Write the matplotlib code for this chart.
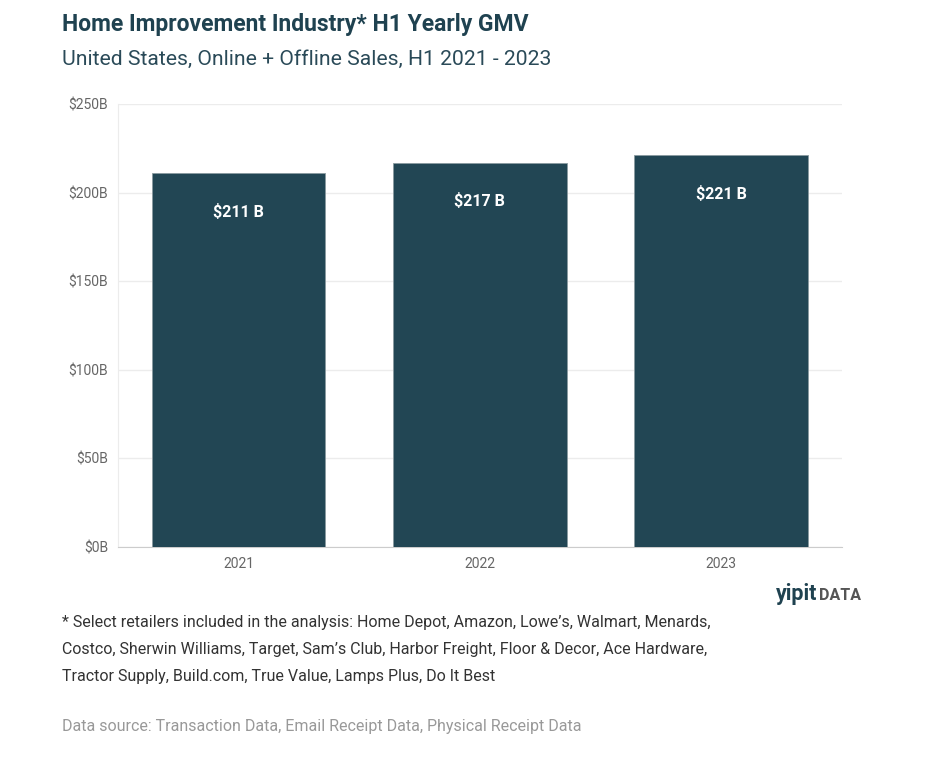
import matplotlib.pyplot as plt

plt.rcParams['font.family'] = ['Roboto', 'DejaVu Sans']

years = ["2021", "2022", "2023"]
gmv = [211, 217, 221]
bar_labels = ["$211 B", "$217 B", "$221 B"]
y_ticks = [0, 50, 100, 150, 200, 250]
y_tick_labels = ["$0B", "$50B", "$100B", "$150B", "$200B", "$250B"]

bar_color = "#224654"
title_color = "#1f4250"

fig = plt.figure(figsize=(9.4, 7.84), dpi=100)
ax = fig.add_axes([0.1255, 0.3023, 0.770, 0.565])

ax.bar(range(len(years)), gmv, width=0.72, color=bar_color,
       edgecolor="#8a9aa0", linewidth=0.6, zorder=3)

for i, v in enumerate(gmv):
    ax.annotate(bar_labels[i], (i, v), xytext=(0, -28), textcoords="offset points",
                ha="center", va="center", color="white", fontsize=11.5,
                fontweight="bold", zorder=4)

ax.set_xlim(-0.5, 2.5)
ax.set_ylim(0, 250)
ax.set_xticks(range(len(years)))
ax.set_xticklabels(years)
ax.set_yticks(y_ticks)
ax.set_yticklabels(y_tick_labels)
ax.tick_params(axis="both", length=0, colors="#666666", labelsize=10)
ax.tick_params(axis="x", pad=7)
ax.tick_params(axis="y", pad=7)

ax.grid(axis="y", color="#ececec", linewidth=1, zorder=0)
for s in ["top", "right"]:
    ax.spines[s].set_visible(False)
ax.spines["left"].set_color("#ececec")
ax.spines["bottom"].set_color("#cccccc")

fig.text(62 / 940, 1 - 24 / 784, "Home Improvement Industry* H1 Yearly GMV",
         fontsize=16.5, fontweight="bold", color=title_color, va="center")
fig.text(62 / 940, 1 - 59 / 784, "United States, Online + Offline Sales, H1 2021 - 2023",
         fontsize=15.2, color="#2a4a58", va="center")

foot = ["* Select retailers included in the analysis: Home Depot, Amazon, Lowe\u2019s, Walmart, Menards,",
        "Costco, Sherwin Williams, Target, Sam\u2019s Club, Harbor Freight, Floor & Decor, Ace Hardware,",
        "Tractor Supply, Build.com, True Value, Lamps Plus, Do It Best"]
for k, line in enumerate(foot):
    fig.text(62 / 940, 1 - (623 + 26.5 * k) / 784, line, fontsize=11.5,
             color="#333333", va="center")

fig.text(62 / 940, 1 - 727 / 784,
         "Data source: Transaction Data, Email Receipt Data, Physical Receipt Data",
         fontsize=11.5, color="#999999", va="center")

fig.text(817 / 940, 1 - 594 / 784, "yipit", fontsize=15.5, fontweight="bold",
         color="#1f4250", va="center", ha="right")
fig.text(819 / 940, 1 - 595 / 784, "DATA", fontsize=11.5, fontweight="bold",
         color="#555555", va="center", ha="left")

fig.savefig("out.png", dpi=100, facecolor="white")
